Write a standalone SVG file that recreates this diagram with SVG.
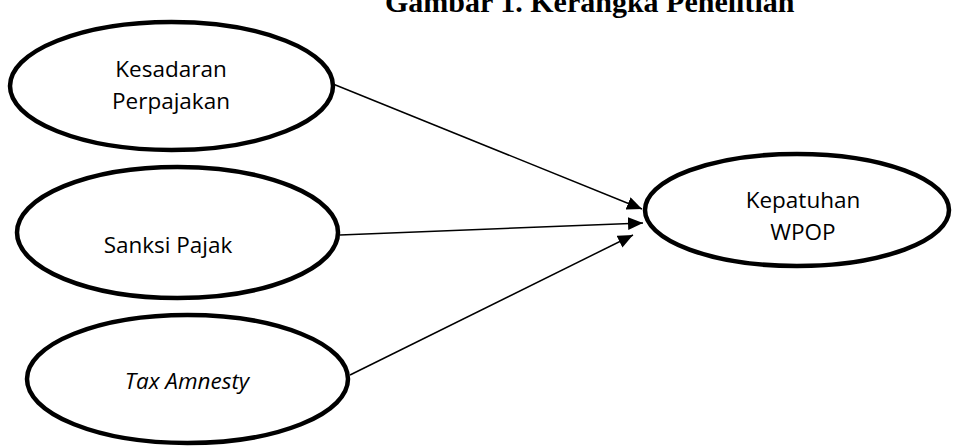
<svg xmlns="http://www.w3.org/2000/svg" width="954" height="448" viewBox="0 0 954 448">
<style>
.node{fill:#fff;stroke:#000;stroke-width:4.5}
.lbl{font-family:"Open Sans","Liberation Sans",sans-serif;font-size:22.5px;fill:#000;text-anchor:middle}
.edge{stroke:#000;stroke-width:1.5;fill:none;marker-end:url(#arr)}
.title{font-family:"Liberation Serif","Times New Roman",serif;font-weight:bold;font-size:30px;fill:#000}
</style>
<defs>
<marker id="arr" markerUnits="userSpaceOnUse" markerWidth="16" markerHeight="14" refX="15" refY="6.5" orient="auto">
<path d="M0,0 L15,6.5 L0,13 z" fill="#000"/>
</marker>
</defs>
<rect width="954" height="448" fill="#fff"/>
<text class="title" x="385" y="12">Gambar 1. Kerangka Penelitian</text>
<g id="connectors">
<line class="edge" x1="333" y1="84" x2="642" y2="209"/>
<line class="edge" x1="340" y1="235" x2="643" y2="223"/>
<line class="edge" x1="350" y1="375" x2="633" y2="235"/>
</g>
<g id="kesadaran">
<ellipse class="node" cx="171.5" cy="86" rx="161.5" ry="64"/>
<text class="lbl" x="171" y="77">Kesadaran</text>
<text class="lbl" x="171" y="109">Perpajakan</text>
</g>
<g id="sanksi">
<ellipse class="node" cx="177.5" cy="232.5" rx="160.5" ry="65.5"/>
<text class="lbl" x="168" y="253">Sanksi Pajak</text>
</g>
<g id="tax">
<ellipse class="node" cx="187.5" cy="379" rx="160.5" ry="64"/>
<text class="lbl" x="187" y="389" font-style="italic">Tax Amnesty</text>
</g>
<g id="kepatuhan">
<ellipse class="node" cx="797" cy="210" rx="152" ry="56"/>
<text class="lbl" x="803" y="208">Kepatuhan</text>
<text class="lbl" x="803" y="240">WPOP</text>
</g>
</svg>
